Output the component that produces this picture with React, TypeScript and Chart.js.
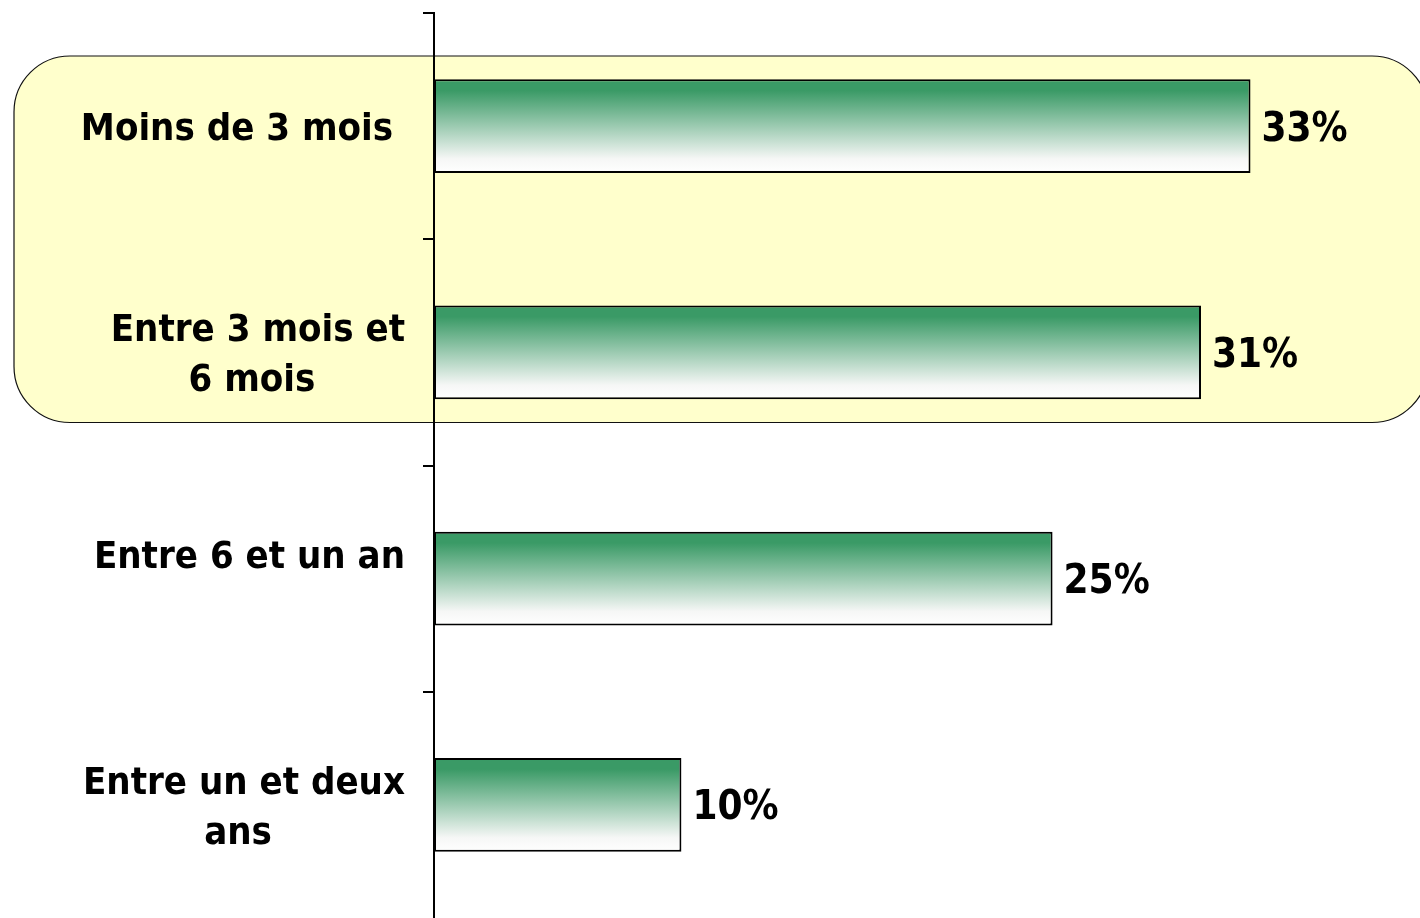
import React, { useEffect, useRef } from "react";
import { Chart, registerables } from "chart.js";

Chart.register(...registerables);

const categories: string[][] = [
  ["Moins de 3 mois "],
  ["Entre 3 mois et", "6 mois "],
  ["Entre 6 et un an", ""],
  ["Entre un et deux", "ans "],
];
const values: number[] = [33, 31, 25, 10];
const valueLabels: string[] = ["33%", "31%", "25%", "10%"];
const xMax = 39.85;

const FONT = "bold 38px 'DejaVu Sans Condensed', 'DejaVu Sans', sans-serif";
const VALUE_FONT = "bold 40px 'DejaVu Sans Condensed', 'DejaVu Sans', sans-serif";
const GREEN = "#3a9a66";
const BAR_PCT = 0.415;

export default function App() {
  const ref = useRef<HTMLCanvasElement | null>(null);

  useEffect(() => {
    const canvas = ref.current;
    if (!canvas) return;

    const highlightPlugin = {
      id: "highlight",
      beforeDraw(chart: any) {
        const ctx = chart.ctx;
        const ys = chart.scales.y;
        const band = (ys.bottom - ys.top) / categories.length;
        const top = ys.getPixelForValue(0) - band * 0.31;
        const bottom = ys.getPixelForValue(1) + band * 0.31;
        const left = chart.chartArea.left - 420;
        const right = chart.chartArea.left + 994;
        const r = 56;
        ctx.save();
        ctx.beginPath();
        ctx.moveTo(left + r, top);
        ctx.lineTo(right - r, top);
        ctx.arcTo(right, top, right, top + r, r);
        ctx.lineTo(right, bottom - r);
        ctx.arcTo(right, bottom, right - r, bottom, r);
        ctx.lineTo(left + r, bottom);
        ctx.arcTo(left, bottom, left, bottom - r, r);
        ctx.lineTo(left, top + r);
        ctx.arcTo(left, top, left + r, top, r);
        ctx.closePath();
        ctx.fillStyle = "#ffffcc";
        ctx.fill();
        ctx.lineWidth = 1.2;
        ctx.strokeStyle = "#111";
        ctx.stroke();
        ctx.restore();
      },
    };

    const labelsPlugin = {
      id: "customLabels",
      afterDraw(chart: any) {
        const ctx = chart.ctx;
        const ys = chart.scales.y;
        const rightEdge = chart.chartArea.left - 29;
        const lineH = 50;
        ctx.save();
        ctx.font = FONT;
        ctx.fillStyle = "#000";
        ctx.textBaseline = "middle";
        ctx.textAlign = "center";
        categories.forEach((lines, i) => {
          const cy = ys.getPixelForValue(i) + 4;
          const w = Math.max(...lines.map((l) => ctx.measureText(l).width));
          const cx = rightEdge - w / 2;
          lines.forEach((l, j) => {
            ctx.fillText(l, cx, cy + (j - (lines.length - 1) / 2) * lineH);
          });
        });
        const meta = chart.getDatasetMeta(0);
        ctx.font = VALUE_FONT;
        ctx.textAlign = "left";
        meta.data.forEach((bar: any, i: number) => {
          ctx.fillText(valueLabels[i], bar.x + 11, bar.y + 4);
        });
        ctx.restore();
      },
    };

    const chart = new Chart(canvas, {
      type: "bar",
      data: {
        labels: categories,
        datasets: [
          {
            data: values,
            backgroundColor: (c: any) => {
              const ch = c.chart;
              const ys = ch.scales && ch.scales.y;
              if (!ys || c.dataIndex === undefined) return GREEN;
              const band = (ys.bottom - ys.top) / categories.length;
              const h = band * BAR_PCT;
              const cy = ys.getPixelForValue(c.dataIndex);
              const y0 = cy - h / 2;
              const y1 = cy + h / 2;
              if (!isFinite(y0) || !isFinite(y1) || h <= 0) return GREEN;
              const g = ch.ctx.createLinearGradient(0, y0, 0, y1);
              g.addColorStop(0, GREEN);
              g.addColorStop(0.12, GREEN);
              g.addColorStop(0.85, "#f6f7f6");
              g.addColorStop(1, "#ffffff");
              return g;
            },
            borderColor: "#000",
            borderWidth: 2,
            borderSkipped: false,
            barPercentage: BAR_PCT,
            categoryPercentage: 1,
          },
        ],
      },
      options: {
        indexAxis: "y",
        responsive: false,
        maintainAspectRatio: false,
        animation: false,
        layout: { padding: { top: 13, left: 0, right: 0, bottom: 0 } },
        plugins: {
          legend: { display: false },
          tooltip: { enabled: false },
        },
        scales: {
          x: {
            display: false,
            min: 0,
            max: xMax,
          },
          y: {
            afterFit: (s: any) => {
              s.width = 434;
            },
            ticks: { display: false },
            grid: {
              display: true,
              drawOnChartArea: false,
              drawTicks: true,
              tickLength: 11,
              color: (c: any) => (c.tick === undefined ? "rgba(0,0,0,0)" : "#000"),
              lineWidth: 2,
              offset: true,
            },
            border: { display: true, color: "#000", width: 2 },
          },
        },
      },
      plugins: [highlightPlugin, labelsPlugin],
    } as any);

    return () => chart.destroy();
  }, []);

  return (
    <div style={{ position: "fixed", left: 0, top: 0, width: 1420, height: 918, background: "#fff" }}>
      <canvas ref={ref} width={1420} height={918} style={{ display: "block" }} />
    </div>
  );
}
